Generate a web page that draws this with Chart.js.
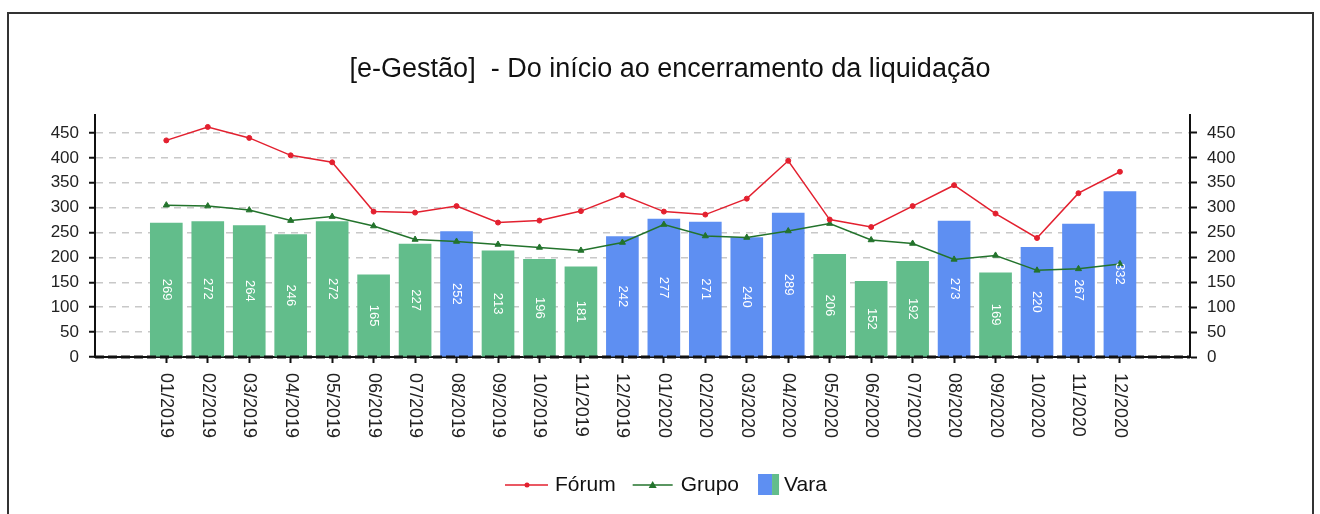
<!DOCTYPE html>
<html>
<head>
<meta charset="utf-8">
<script src="https://cdn.jsdelivr.net/npm/chart.js@4.4.1/dist/chart.umd.min.js"></script>
<style>
    html, body { margin: 0; padding: 0; background: #fff; }
    #wrap { position: relative; width: 1320px; height: 514px; }
</style>
</head>
<body>
<div id="wrap"><canvas id="chart" width="1320" height="514"></canvas></div>
<script>
// Meses (eixo X)
const meses = ["01/2019", "02/2019", "03/2019", "04/2019", "05/2019", "06/2019", "07/2019", "08/2019",
    "09/2019", "10/2019", "11/2019", "12/2019", "01/2020", "02/2020", "03/2020", "04/2020",
    "05/2020", "06/2020", "07/2020", "08/2020", "09/2020", "10/2020", "11/2020", "12/2020"];

// Vara (barras)
const vara = [269, 272, 264, 246, 272, 165, 227, 252, 213, 196, 181, 242,
    277, 271, 240, 289, 206, 152, 192, 273, 169, 220, 267, 332];

// Meses em que a barra da Vara aparece em azul
const varaAzul = ["08/2019", "12/2019", "01/2020", "02/2020", "03/2020", "04/2020",
    "08/2020", "10/2020", "11/2020", "12/2020"];

// Fórum (linha vermelha)
const forum = [435, 462, 440, 405, 391, 292, 290, 303, 270, 274, 293, 325,
    292, 286, 318, 394, 276, 261, 303, 345, 288, 239, 329, 372];

// Grupo (linha verde)
const grupo = [305, 303, 295, 274, 282, 263, 236, 232, 226, 220, 214, 230,
    266, 243, 240, 253, 268, 235, 228, 196, 204, 174, 177, 187];

// Marcas do eixo Y
const yTicks = [0, 50, 100, 150, 200, 250, 300, 350, 400, 450];

const titulo = "[e-Gestão]  - Do início ao encerramento da liquidação";

const VERDE = "#62bd8b";
const AZUL = "#5e8ff2";
const VERMELHO = "#e3202f";
const VERDE_ESCURO = "#23732c";
const FONTE = "'Liberation Sans', Arial, sans-serif";

const coresVara = meses.map(m => varaAzul.includes(m) ? AZUL : VERDE);

// Desenho extra: moldura, título, rótulos, legenda
const extras = {
    id: "extras",
    afterDatasetsDraw(chart) {
        const ctx = chart.ctx;
        // valores dentro das barras
        const meta = chart.getDatasetMeta(0);
        ctx.save();
        ctx.fillStyle = "#ffffff";
        ctx.font = "13px " + FONTE;
        ctx.textAlign = "center";
        ctx.textBaseline = "middle";
        meta.data.forEach((bar, i) => {
            const mid = (bar.y + bar.base) / 2;
            ctx.save();
            ctx.translate(bar.x, mid);
            ctx.rotate(Math.PI / 2);
            ctx.fillText(String(vara[i]), 0, 0);
            ctx.restore();
        });
        ctx.restore();
    },
    afterDraw(chart) {
        const ctx = chart.ctx;
        const xs = chart.scales.x;
        const area = chart.chartArea;

        ctx.save();
        // moldura
        ctx.strokeStyle = "#333";
        ctx.lineWidth = 2;
        ctx.beginPath();
        ctx.moveTo(8, 520);
        ctx.lineTo(8, 13);
        ctx.lineTo(1313, 13);
        ctx.lineTo(1313, 520);
        ctx.stroke();

        // eixo X tracejado
        ctx.strokeStyle = "#111";
        ctx.lineWidth = 3;
        ctx.setLineDash([9, 4]);
        ctx.beginPath();
        ctx.moveTo(area.left, area.bottom);
        ctx.lineTo(area.right, area.bottom);
        ctx.stroke();
        ctx.setLineDash([]);

        // título
        ctx.fillStyle = "#111";
        ctx.font = "27px " + FONTE;
        ctx.textAlign = "center";
        ctx.textBaseline = "middle";
        ctx.fillText(titulo, 670, 70);

        // rótulos do eixo X (lidos de cima para baixo)
        ctx.fillStyle = "#222";
        ctx.font = "18px " + FONTE;
        ctx.textAlign = "left";
        ctx.textBaseline = "middle";
        meses.forEach((m, i) => {
            const x = xs.getPixelForValue(i);
            ctx.save();
            ctx.translate(x, area.bottom + 16);
            ctx.rotate(Math.PI / 2);
            ctx.fillText(m, 0, 0);
            ctx.restore();
        });

        // legenda
        const ly = 485;
        let lx = 505;
        ctx.font = "21px " + FONTE;
        ctx.textAlign = "left";
        ctx.fillStyle = "#111";

        ctx.strokeStyle = VERMELHO;
        ctx.lineWidth = 1.5;
        ctx.beginPath();
        ctx.moveTo(lx, ly);
        ctx.lineTo(lx + 43, ly);
        ctx.stroke();
        ctx.fillStyle = VERMELHO;
        ctx.beginPath();
        ctx.arc(lx + 22, ly, 2.5, 0, Math.PI * 2);
        ctx.fill();
        lx += 50;
        ctx.fillStyle = "#111";
        ctx.fillText("Fórum", lx, ly);
        lx += ctx.measureText("Fórum").width + 17;

        ctx.strokeStyle = VERDE_ESCURO;
        ctx.beginPath();
        ctx.moveTo(lx, ly);
        ctx.lineTo(lx + 40, ly);
        ctx.stroke();
        ctx.fillStyle = VERDE_ESCURO;
        ctx.beginPath();
        ctx.moveTo(lx + 20, ly - 4);
        ctx.lineTo(lx + 24, ly + 3);
        ctx.lineTo(lx + 16, ly + 3);
        ctx.closePath();
        ctx.fill();
        lx += 48;
        ctx.fillStyle = "#111";
        ctx.fillText("Grupo", lx, ly);
        lx += ctx.measureText("Grupo").width + 19;

        ctx.fillStyle = AZUL;
        ctx.fillRect(lx, ly - 11, 14, 21);
        ctx.fillStyle = VERDE;
        ctx.fillRect(lx + 14, ly - 11, 7, 21);
        lx += 26;
        ctx.fillStyle = "#111";
        ctx.fillText("Vara", lx, ly);
        ctx.restore();
    }
};

const ctx = document.getElementById("chart").getContext("2d");
new Chart(ctx, {
    type: "bar",
    data: {
        datasets: [
            {
                type: "bar",
                label: "Vara",
                data: vara.map((v, i) => ({x: i, y: v})),
                backgroundColor: coresVara,
                borderWidth: 0,
                barThickness: 32,
                yAxisID: "y",
                order: 3
            },
            {
                type: "line",
                label: "Grupo",
                data: grupo.map((v, i) => ({x: i, y: v})),
                borderColor: VERDE_ESCURO,
                backgroundColor: VERDE_ESCURO,
                borderWidth: 1.5,
                pointStyle: "triangle",
                pointRadius: 3.5,
                pointBorderWidth: 1,
                tension: 0,
                yAxisID: "y",
                order: 2
            },
            {
                type: "line",
                label: "Fórum",
                data: forum.map((v, i) => ({x: i, y: v})),
                borderColor: VERMELHO,
                backgroundColor: VERMELHO,
                borderWidth: 1.5,
                pointStyle: "circle",
                pointRadius: 2.5,
                pointBorderWidth: 1,
                tension: 0,
                yAxisID: "y",
                order: 1
            }
        ]
    },
    options: {
        responsive: false,
        animation: false,
        devicePixelRatio: 1,
        layout: {padding: {top: 115, left: 0, right: 0, bottom: 0}},
        plugins: {
            legend: {display: false},
            title: {display: false},
            tooltip: {enabled: false}
        },
        scales: {
            x: {
                type: "linear",
                offset: false,
                min: -1.72,
                max: 24.69,
                afterBuildTicks: s => { s.ticks = meses.map((m, i) => ({value: i})); },
                afterFit: s => { s.height = 157; },
                ticks: {display: false},
                grid: {offset: false, drawOnChartArea: false, drawTicks: true, tickLength: 6, tickColor: "#111", tickWidth: 2},
                border: {display: true, color: "#111", width: 2}
            },
            y: {
                position: "left",
                min: 0,
                max: 486,
                afterBuildTicks: s => { s.ticks = yTicks.map(v => ({value: v})); },
                afterFit: s => { s.width = 95; },
                ticks: {color: "#222", font: {size: 17, family: FONTE}, padding: 10},
                grid: {color: "#c8c8c8", lineWidth: 1.5, tickColor: "#111", tickWidth: 2, tickLength: 6, tickBorderDash: []},
                border: {display: true, color: "#111", width: 2, dash: [7, 6]}
            },
            y2: {
                position: "right",
                min: 0,
                max: 486,
                afterBuildTicks: s => { s.ticks = yTicks.map(v => ({value: v})); },
                afterFit: s => { s.width = 130; },
                ticks: {color: "#222", font: {size: 17, family: FONTE}, padding: 10},
                grid: {drawOnChartArea: false, tickColor: "#111", tickWidth: 2, tickLength: 7},
                border: {display: true, color: "#111", width: 2}
            }
        }
    },
    plugins: [extras]
});
</script>
</body>
</html>
